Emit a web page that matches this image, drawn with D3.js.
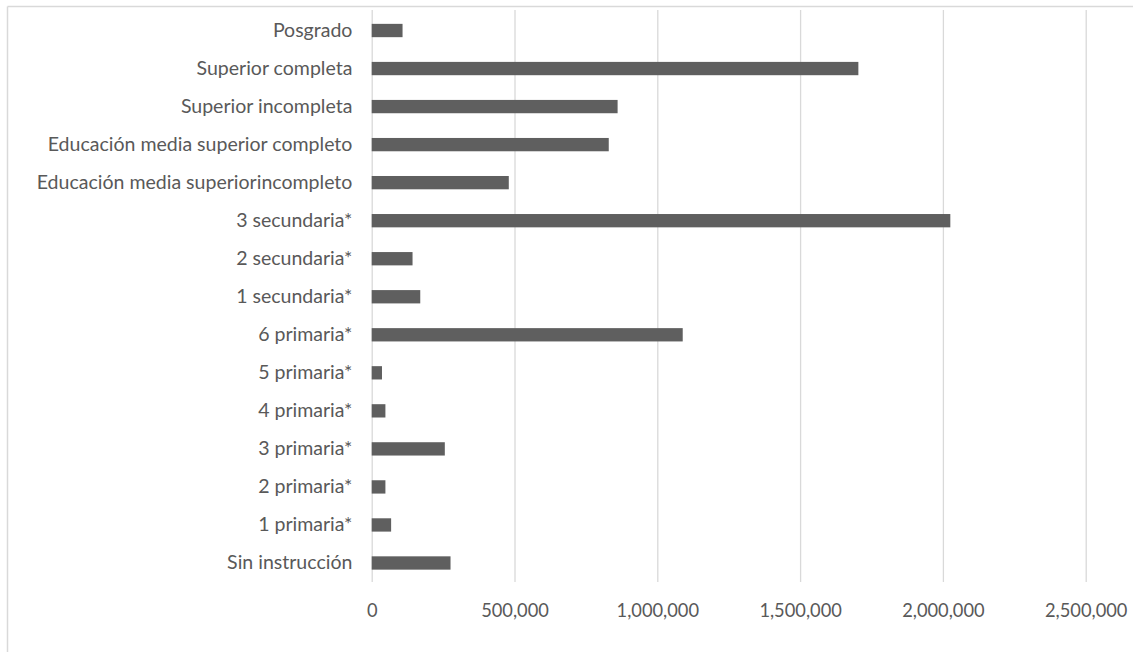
<!DOCTYPE html>
<html>
<head>
<meta charset="utf-8">
<script src="https://cdn.jsdelivr.net/npm/d3@7"></script>
<style>
  html, body { margin: 0; padding: 0; background: #fff; }
  svg { display: block; }
</style>
</head>
<body>
<div id="chart"></div>
<script>
// categories, top to bottom as shown
var categories = [
  'Posgrado',
  'Superior completa',
  'Superior incompleta',
  'Educación media superior completo',
  'Educación media superiorincompleto',
  '3 secundaria*',
  '2 secundaria*',
  '1 secundaria*',
  '6 primaria*',
  '5 primaria*',
  '4 primaria*',
  '3 primaria*',
  '2 primaria*',
  '1 primaria*',
  'Sin instrucción'
];
var values = [108000, 1704000, 861000, 830000, 480000, 2026000, 143000, 170000,
              1089000, 36000, 48000, 256000, 48000, 68000, 276000];
var xTicks = [0, 500000, 1000000, 1500000, 2000000, 2500000];

var width = 1133, height = 654;
var plot = {left: 371.7, right: 1085.7, top: 11.5, bottom: 582};
var gridColor = '#d9d9d9', textColor = '#595959', barColor = '#5f5f5f';
var font = 'Lato, "Open Sans", sans-serif';

var svg = d3.select('#chart').append('svg')
    .attr('width', width)
    .attr('height', height);

// chart area border (top and left edges visible)
svg.append('line')
    .attr('x1', 7.5).attr('x2', width).attr('y1', 6.5).attr('y2', 6.5)
    .attr('stroke', gridColor).attr('stroke-width', 1.5);
svg.append('line')
    .attr('x1', 7.5).attr('x2', 7.5).attr('y1', 6.5).attr('y2', 652)
    .attr('stroke', gridColor).attr('stroke-width', 1.5);

var x = d3.scaleLinear()
    .domain([0, 2500000])
    .range([plot.left, plot.right]);

var y = d3.scaleBand()
    .domain(categories)
    .range([plot.top, plot.bottom])
    .paddingInner(0.65)
    .paddingOuter(0.325);

// x axis with gridlines
var xAxis = svg.append('g')
    .attr('transform', 'translate(0,' + plot.bottom + ')')
    .call(d3.axisBottom(x)
        .tickValues(xTicks)
        .tickSize(-(plot.bottom - plot.top + 1.5))
        .tickFormat(d3.format(',')));
xAxis.select('.domain').remove();
xAxis.selectAll('.tick line').attr('stroke', gridColor).attr('stroke-width', 1.3);
var xText = xAxis.selectAll('.tick text')
    .attr('y', 27.5)
    .attr('dy', null)
    .attr('dominant-baseline', 'central')
    .attr('fill', textColor)
    .style('font-family', font)
    .style('font-size', '16px');

// bars
svg.append('g')
    .selectAll('rect')
    .data(values)
    .enter()
        .append('rect')
        .attr('x', x(0))
        .attr('y', function(d, i){ return y(categories[i]); })
        .attr('width', function(d){ return x(d) - x(0); })
        .attr('height', y.bandwidth())
        .attr('fill', barColor);

// category labels
var yAxis = svg.append('g')
    .attr('transform', 'translate(' + plot.left + ',0)')
    .call(d3.axisLeft(y).tickSize(0).tickPadding(19.3));
yAxis.select('.domain').remove();
var yText = yAxis.selectAll('.tick text')
    .attr('fill', textColor)
    .style('font-family', font)
    .style('font-size', '16px');

// fit font sizes to the widths measured on the original
var maxW = d3.max(yText.nodes(), function(n){ return n.getComputedTextLength(); });
yText.style('font-size', (16 * 316 / maxW) + 'px');
var tickW = d3.max(xText.nodes(), function(n){ return n.getComputedTextLength(); });
xText.style('font-size', (16 * 82.5 / tickW) + 'px');
</script>
</body>
</html>
